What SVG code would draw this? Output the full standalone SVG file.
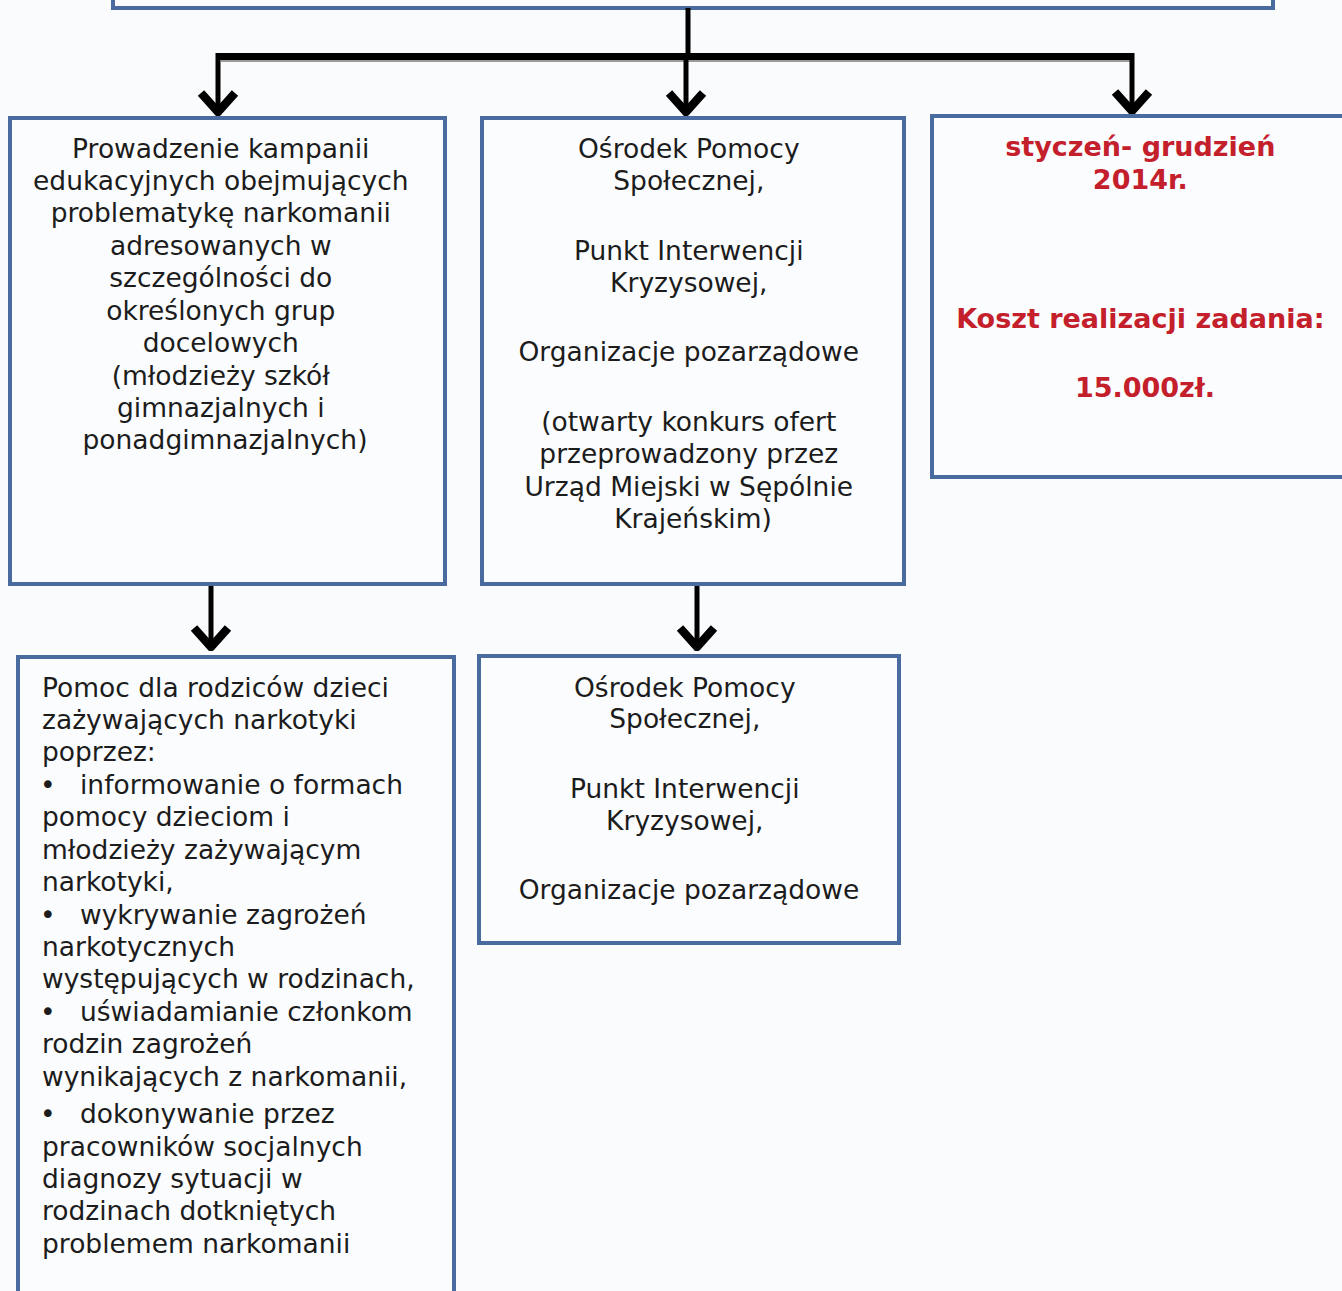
<svg xmlns="http://www.w3.org/2000/svg" width="1342" height="1291" viewBox="0 0 1342 1291">
<style>
.box{fill:#fbfcfe;stroke:#4a6b9f;stroke-width:4}
.t{font-family:"DejaVu Sans",Verdana,sans-serif;font-size:26.5px;fill:#1c1c1c}
.c{text-anchor:middle}
.r{font-family:"DejaVu Sans",Verdana,sans-serif;font-size:27px;font-weight:bold;fill:#c4202c;text-anchor:middle}
.ln{fill:none;stroke:#000;stroke-width:5}
.bar{fill:none;stroke:#000;stroke-width:7}
.sh{fill:none;stroke:#9a9a9a;stroke-width:3}
</style>
<defs>
<marker id="ah" viewBox="-24 -22 28 44" refX="0" refY="0" markerWidth="28" markerHeight="44" markerUnits="userSpaceOnUse" orient="auto">
<path d="M-19,-17 L0,0 L-19,17" fill="none" stroke="#000" stroke-width="8.5" stroke-linejoin="round" stroke-linecap="butt"/>
</marker>
</defs>
<rect width="1342" height="1291" fill="#f9fbfd"/>
<g id="top-box"><rect class="box" x="113" y="-10" width="1160" height="18"/></g>
<g id="connectors">
<path class="sh" d="M221,60.5 H1133"/>
<path class="ln" d="M688,8 V56"/>
<path class="bar" d="M218,56.5 H1131"/>
<path class="ln" d="M218,53 V112" marker-end="url(#ah)"/>
<path class="ln" d="M686,56 V112" marker-end="url(#ah)"/>
<path class="ln" d="M1132,53 V111" marker-end="url(#ah)"/>
<path class="ln" d="M211,585 V647" marker-end="url(#ah)"/>
<path class="ln" d="M697,585 V647" marker-end="url(#ah)"/>
</g>
<g id="box-a">
<rect class="box" x="10" y="118" width="435" height="466"/>
<text class="t c">
<tspan x="225" y="158">Prowadzenie kampanii</tspan>
<tspan x="225" y="190">edukacyjnych obejmujących</tspan>
<tspan x="225" y="222">problematykę narkomanii</tspan>
<tspan x="225" y="255">adresowanych w</tspan>
<tspan x="225" y="287">szczególności do</tspan>
<tspan x="225" y="320">określonych grup</tspan>
<tspan x="225" y="352">docelowych</tspan>
<tspan x="225" y="385">(młodzieży szkół</tspan>
<tspan x="225" y="417">gimnazjalnych i</tspan>
<tspan x="225" y="449">ponadgimnazjalnych)</tspan>
</text>
</g>
<g id="box-b">
<rect class="box" x="482" y="118" width="422" height="466"/>
<text class="t c">
<tspan x="693" y="158">Ośrodek Pomocy</tspan>
<tspan x="693" y="190">Społecznej,</tspan>
<tspan x="693" y="260">Punkt Interwencji</tspan>
<tspan x="693" y="292">Kryzysowej,</tspan>
<tspan x="693" y="361">Organizacje pozarządowe</tspan>
<tspan x="693" y="431">(otwarty konkurs ofert</tspan>
<tspan x="693" y="463">przeprowadzony przez</tspan>
<tspan x="693" y="496">Urząd Miejski w Sępólnie</tspan>
<tspan x="693" y="528">Krajeńskim)</tspan>
</text>
</g>
<g id="box-c">
<rect class="box" x="932" y="116" width="420" height="361"/>
<text class="r">
<tspan x="1145" y="156">styczeń- grudzień</tspan>
<tspan x="1145" y="189">2014r.</tspan>
<tspan x="1145" y="328">Koszt realizacji zadania:</tspan>
<tspan x="1145" y="397">15.000zł.</tspan>
</text>
</g>
<g id="box-d">
<rect class="box" x="18" y="657" width="436" height="650"/>
<text class="t">
<tspan x="42" y="697">Pomoc dla rodziców dzieci</tspan>
<tspan x="42" y="729">zażywających narkotyki</tspan>
<tspan x="42" y="761">poprzez:</tspan>
<tspan x="40" y="794">•</tspan><tspan x="80" y="794">informowanie o formach</tspan>
<tspan x="42" y="826">pomocy dzieciom i</tspan>
<tspan x="42" y="859">młodzieży zażywającym</tspan>
<tspan x="42" y="891">narkotyki,</tspan>
<tspan x="40" y="924">•</tspan><tspan x="80" y="924">wykrywanie zagrożeń</tspan>
<tspan x="42" y="956">narkotycznych</tspan>
<tspan x="42" y="988">występujących w rodzinach,</tspan>
<tspan x="40" y="1021">•</tspan><tspan x="80" y="1021">uświadamianie członkom</tspan>
<tspan x="42" y="1053">rodzin zagrożeń</tspan>
<tspan x="42" y="1086">wynikających z narkomanii,</tspan>
<tspan x="40" y="1123">•</tspan><tspan x="80" y="1123">dokonywanie przez</tspan>
<tspan x="42" y="1156">pracowników socjalnych</tspan>
<tspan x="42" y="1188">diagnozy sytuacji w</tspan>
<tspan x="42" y="1220">rodzinach dotkniętych</tspan>
<tspan x="42" y="1253">problemem narkomanii</tspan>
</text>
</g>
<g id="box-e">
<rect class="box" x="479" y="656" width="420" height="287"/>
<text class="t c">
<tspan x="689" y="697">Ośrodek Pomocy</tspan>
<tspan x="689" y="728">Społecznej,</tspan>
<tspan x="689" y="798">Punkt Interwencji</tspan>
<tspan x="689" y="830">Kryzysowej,</tspan>
<tspan x="689" y="899">Organizacje pozarządowe</tspan>
</text>
</g>
</svg>
